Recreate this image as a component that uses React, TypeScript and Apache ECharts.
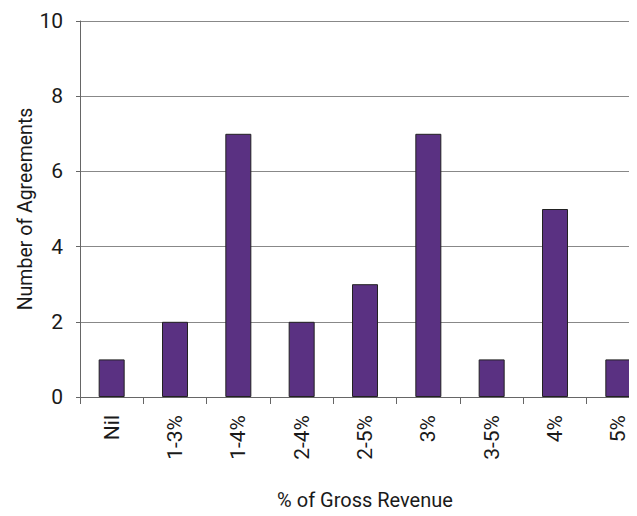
import React, { useEffect, useRef } from "react";
import * as echarts from "echarts";

const categories = ["Nil", "1-3%", "1-4%", "2-4%", "2-5%", "3%", "3-5%", "4%", "5%"];
const agreements = [1, 2, 7, 2, 3, 7, 1, 5, 1];
const yTicks = { min: 0, max: 10, interval: 2 };
const xTitle = "% of Gross Revenue";
const yTitle = "Number of Agreements";

const FONT = "Roboto, 'DejaVu Sans Condensed', Arial, sans-serif";

export default function App() {
  const ref = useRef<HTMLDivElement>(null);
  useEffect(() => {
    if (!ref.current) return;
    const chart = echarts.init(ref.current, undefined, { renderer: "svg" });
    chart.setOption({
      animation: false,
      backgroundColor: "#ffffff",
      textStyle: { fontFamily: FONT },
      grid: { left: 80, top: 21, bottom: 119, width: 570, containLabel: false, outerBoundsMode: "none" },
      xAxis: {
        type: "category",
        data: categories,
        boundaryGap: true,
        name: xTitle,
        nameLocation: "middle",
        nameGap: 93,
        nameMoveOverlap: false,
        nameTextStyle: { fontFamily: FONT, fontSize: 20, color: "#1a1a1a" },
        axisLine: { lineStyle: { color: "#666", width: 1 } },
        axisTick: { show: true, length: 7, lineStyle: { color: "#666" } },
        axisLabel: { rotate: 90, fontFamily: FONT, fontSize: 21, color: "#1a1a1a", margin: 18, interval: 0 },
      },
      yAxis: {
        type: "value",
        min: yTicks.min,
        max: yTicks.max,
        interval: yTicks.interval,
        name: yTitle,
        nameLocation: "middle",
        nameGap: 45,
        nameMoveOverlap: false,
        nameTextStyle: { fontFamily: FONT, fontSize: 19.5, color: "#1a1a1a" },
        axisLine: { show: true, lineStyle: { color: "#666", width: 1 } },
        axisTick: { show: true, length: 4, lineStyle: { color: "#666" } },
        axisLabel: { fontFamily: FONT, fontSize: 21, color: "#1a1a1a", margin: 17 },
        splitLine: { show: true, lineStyle: { color: "#888", width: 1 } },
      },
      series: [
        {
          type: "bar",
          data: agreements,
          barWidth: 26,
          itemStyle: { color: "#5A3182", borderColor: "#222", borderWidth: 1 },
        },
      ],
    });
    return () => chart.dispose();
  }, []);
  return <div ref={ref} style={{ width: 637, height: 516, margin: -8 }} />;
}
